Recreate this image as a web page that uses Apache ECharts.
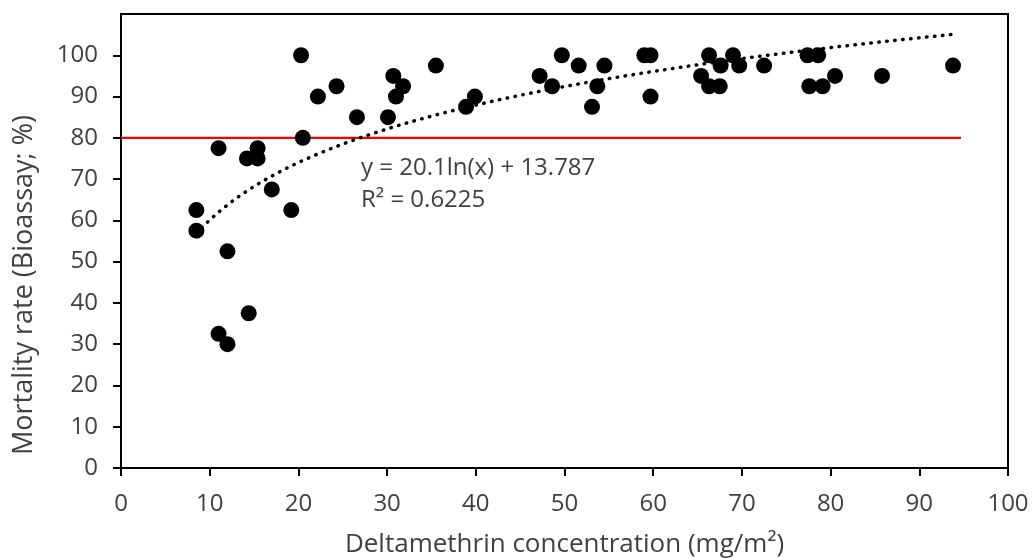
<!DOCTYPE html>
<html>
<head>
<meta charset="utf-8">
<script src="https://cdn.jsdelivr.net/npm/echarts@6/dist/echarts.min.js"></script>
<style>
html,body{margin:0;padding:0;background:#fff;}
#c{width:1032px;height:558px;}
</style>
</head>
<body>
<div id="c"></div>
<script>
// Measured concentrations (mg/m2) and mortality rates (%)
var concentration = [
  8.5, 8.5, 11.0, 11.0, 12.0, 12.0, 14.2, 14.4, 15.4, 15.4, 17.0, 19.2,
  20.3, 20.5, 22.2, 24.3, 26.6, 30.1, 30.7, 31.0, 31.8, 35.5, 38.9, 39.9,
  47.2, 48.6, 49.7, 51.6, 53.1, 53.7, 54.5, 59.0, 59.7, 59.7,
  65.4, 66.3, 66.3, 67.5, 67.6, 69.0, 69.7, 72.5, 77.4, 77.6, 78.6, 79.1,
  80.5, 85.8, 93.8
];
var mortality = [
  62.5, 57.5, 77.5, 32.5, 52.5, 30, 75, 37.5, 77.5, 75, 67.5, 62.5,
  100, 80, 90, 92.5, 85, 85, 95, 90, 92.5, 97.5, 87.5, 90,
  95, 92.5, 100, 97.5, 87.5, 92.5, 97.5, 100, 100, 90,
  95, 100, 92.5, 92.5, 97.5, 100, 97.5, 97.5, 100, 92.5, 100, 92.5,
  95, 95, 97.5
];
var xTicks = [0, 10, 20, 30, 40, 50, 60, 70, 80, 90, 100];
var yTicks = [0, 10, 20, 30, 40, 50, 60, 70, 80, 90, 100];
// Trendline shown on the chart: y = 20.1 ln(x) + 13.787
var trendA = 20.1, trendB = 13.787;
var trendXMin = 8.5, trendXMax = 93.8;
var thresholdY = 80, thresholdXEnd = 94.7;
var xTitle = 'Deltamethrin concentration (mg/m\u00b2)';
var yTitle = 'Mortality rate (Bioassay; %)';
var equationText = 'y = 20.1ln(x) + 13.787';
var r2Text = 'R\u00b2 = 0.6225';

var points = concentration.map(function (x, i) { return [x, mortality[i]]; });
var trend = [];
for (var k = 0; k <= 200; k++) {
  var tx = trendXMin + (trendXMax - trendXMin) * k / 200;
  trend.push([tx, trendA * Math.log(tx) + trendB]);
}

var FONT = '"Open Sans", "Noto Sans", sans-serif';
var TXT = '#404040';
var chart = echarts.init(document.getElementById('c'), null, {renderer: 'canvas'});
chart.setOption({
  animation: false,
  backgroundColor: '#fff',
  grid: {left: 121, top: 14, right: 24, bottom: 90, show: true, borderColor: '#000', borderWidth: 2,
    backgroundColor: 'transparent', containLabel: false, outerBoundsMode: 'none'},
  xAxis: {
    type: 'value', min: 0, max: 100, interval: 10,
    name: xTitle, nameLocation: 'middle', nameGap: 64,
    nameTextStyle: {fontFamily: FONT, fontSize: 26, color: TXT},
    axisLine: {show: true, lineStyle: {color: '#000', width: 2}},
    axisTick: {show: true, inside: false, length: 8, lineStyle: {color: '#000', width: 2}},
    axisLabel: {fontFamily: FONT, fontSize: 24, color: TXT, margin: 24,
      formatter: function (v) { return xTicks.indexOf(v) >= 0 ? String(v) : ''; }},
    splitLine: {show: false}
  },
  yAxis: {
    type: 'value', min: 0, max: 110, interval: 10,
    axisLine: {show: true, lineStyle: {color: '#000', width: 2}},
    axisTick: {show: true, inside: false, length: 8, lineStyle: {color: '#000', width: 2},
      customValues: yTicks},
    axisLabel: {fontFamily: FONT, fontSize: 24, color: TXT, margin: 23,
      customValues: yTicks},
    splitLine: {show: false}
  },
  series: [
    {
      type: 'line', data: [[0, thresholdY], [thresholdXEnd, thresholdY]],
      symbol: 'none', lineStyle: {color: '#ff0000', width: 2.2}, z: 2, silent: true
    },
    {
      type: 'line', data: trend, symbol: 'none', smooth: false,
      lineStyle: {color: '#000', width: 3.5, type: [0.5, 7.5], cap: 'round'}, z: 3, silent: true
    },
    {
      type: 'scatter', data: points, symbol: 'circle', symbolSize: 16,
      itemStyle: {color: '#000', opacity: 1}, z: 4
    }
  ],
  graphic: [
    {type: 'text', x: 24, y: 285, rotation: Math.PI / 2,
      style: {text: yTitle, fontFamily: FONT, fontSize: 27, fill: TXT, align: 'center', verticalAlign: 'middle'}},
    {type: 'text', left: 361, top: 156, style: {text: equationText, fontFamily: FONT, fontSize: 24, fill: TXT}},
    {type: 'text', left: 361, top: 188, style: {text: r2Text, fontFamily: FONT, fontSize: 24, fill: TXT}}
  ]
});
</script>
</body>
</html>
